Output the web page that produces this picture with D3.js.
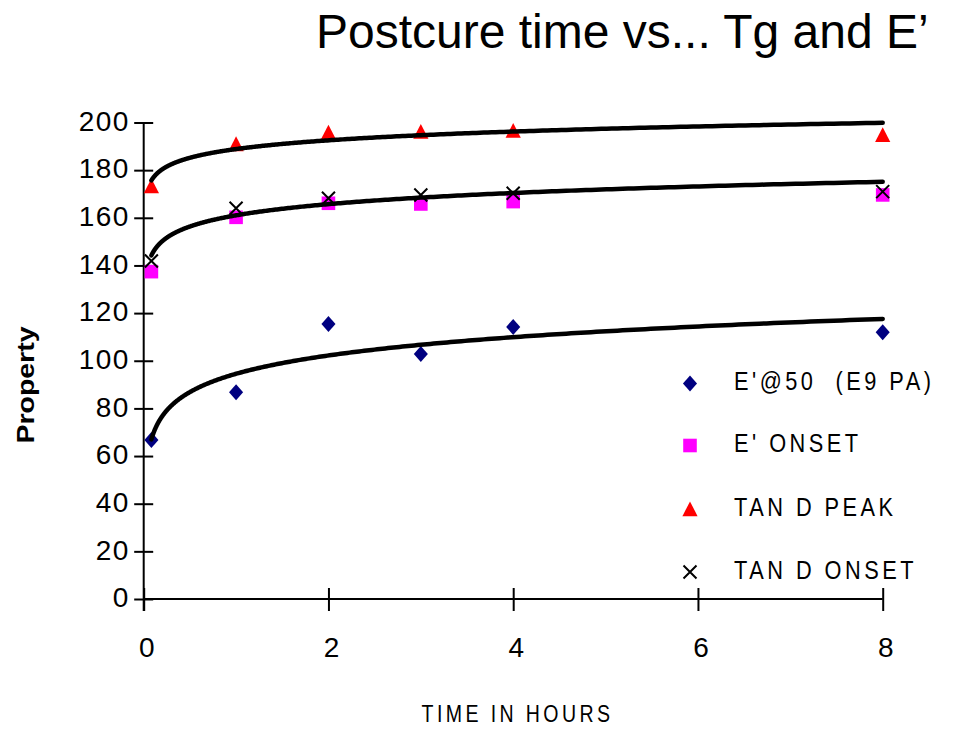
<!DOCTYPE html>
<html>
<head>
<meta charset="utf-8">
<script src="https://cdn.jsdelivr.net/npm/d3@7"></script>
<style>
  html, body { margin: 0; padding: 0; background: #fff; }
  svg { display: block; }
  text { white-space: pre; font-family: "Liberation Sans", Arial, sans-serif; }
</style>
</head>
<body>
<div id="chart"></div>
<script>
// Postcure time (hours) against measured properties
const timeHours = [1 / 12, 1, 2, 3, 4, 8];
const eStorage50 = [66.7, 86.8, 115.4, 102.8, 114.2, 112.0];   // E'@50 (E9 Pa)
const eOnset     = [137.4, 160.2, 166.1, 165.8, 166.8, 169.6]; // E' onset
const tanDPeak   = [173.3, 191.0, 195.9, 196.2, 196.6, 194.8]; // tan delta peak
const tanDOnset  = [141.9, 164.0, 168.2, 169.6, 170.3, 171.0]; // tan delta onset

const xTicks = [0, 2, 4, 6, 8];
const yTicks = [0, 20, 40, 60, 80, 100, 120, 140, 160, 180, 200];

const seriesNames = ["E'@50  (E9 PA)", "E' ONSET", "TAN D PEAK", "TAN D ONSET"];

const W = 953, H = 729;
const svg = d3.select("#chart").append("svg").attr("width", W).attr("height", H);

const x = d3.scaleLinear().domain([0, 8]).range([143.7, 882.7]);
const y = d3.scaleLinear().domain([0, 200]).range([599, 122.5]);

// Title
svg.append("text")
  .attr("x", 316).attr("y", 48)
  .attr("font-size", 48)
  .attr("fill", "#000")
  .text("Postcure time vs... Tg and E’");

// Axes with ticks crossing the axis line
const yAxis = svg.append("g")
  .attr("transform", `translate(${x(0)},0)`)
  .call(d3.axisLeft(y).tickValues(yTicks).tickSize(9).tickPadding(0).tickFormat(d3.format("d")));
yAxis.attr("font-family", null).attr("font-size", null);
yAxis.select(".domain").attr("stroke", "#000").attr("stroke-width", 2).attr("d", `M0,${y(200)}V${y(0) + 12}`);
yAxis.selectAll(".tick line").attr("x1", -9.5).attr("x2", 9.5).attr("stroke", "#000").attr("stroke-width", 2);
yAxis.selectAll(".tick text")
  .attr("x", -14).attr("dy", "0.28em")
  .attr("font-size", 28).attr("letter-spacing", 1.4)
  .attr("fill", "#000");

const xAxis = svg.append("g")
  .attr("transform", `translate(0,${y(0)})`)
  .call(d3.axisBottom(x).tickValues(xTicks).tickSize(12).tickPadding(0).tickFormat(d3.format("d")));
xAxis.attr("font-family", null).attr("font-size", null);
xAxis.select(".domain").attr("stroke", "#000").attr("stroke-width", 2).attr("d", `M${x(0)},0H${x(8)}`);
xAxis.selectAll(".tick line").attr("y1", -11).attr("y2", 12).attr("stroke", "#000").attr("stroke-width", 2);
xAxis.selectAll(".tick text")
  .attr("x", 2.5).attr("y", 58).attr("dy", 0)
  .attr("font-size", 28)
  .attr("fill", "#000");

// Axis titles
svg.append("text")
  .attr("transform", "translate(517.5,722) scale(0.85,1)")
  .attr("text-anchor", "middle")
  .attr("font-size", 23)
  .attr("letter-spacing", 4)
  .attr("fill", "#000")
  .text("TIME IN HOURS");

svg.append("text")
  .attr("transform", "translate(34,385) rotate(-90)")
  .attr("text-anchor", "middle")
  .attr("font-weight", "bold")
  .attr("font-size", 24)
  .attr("textLength", 117)
  .attr("lengthAdjust", "spacingAndGlyphs")
  .attr("fill", "#000")
  .text("Property");

// Marker shapes
const diamond = (cx, cy, s) => `M${cx},${cy - s}L${cx + s * 0.88},${cy}L${cx},${cy + s}L${cx - s * 0.88},${cy}Z`;
const square = (cx, cy, s) => `M${cx - s},${cy - s}H${cx + s}V${cy + s}H${cx - s}Z`;
const triangle = (cx, cy, s) => `M${cx},${cy - s}L${cx + s},${cy + s * 0.95}L${cx - s},${cy + s * 0.95}Z`;
const cross = (cx, cy, s) => `M${cx - s},${cy - s}L${cx + s},${cy + s}M${cx + s},${cy - s}L${cx - s},${cy + s}`;

const series = [
  { name: seriesNames[0], values: eStorage50, shape: diamond, size: 8, fill: "#000080", stroke: "none" },
  { name: seriesNames[1], values: eOnset, shape: square, size: 6.8, fill: "#ff00ff", stroke: "none" },
  { name: seriesNames[2], values: tanDPeak, shape: triangle, size: 7.6, fill: "#ff0000", stroke: "none" },
  { name: seriesNames[3], values: tanDOnset, shape: cross, size: 6.5, fill: "none", stroke: "#000" }
];

const pts = svg.append("g");
series.forEach(s => {
  pts.selectAll(null)
    .data(timeHours.map((t, i) => [t, s.values[i]]))
    .enter().append("path")
    .attr("d", d => s.shape(x(d[0]), y(d[1]), s.size))
    .attr("fill", s.fill)
    .attr("stroke", s.stroke)
    .attr("stroke-width", 2);
});

// Logarithmic trendlines (least squares fit of y = a + b ln x)
function logFit(xs, ys) {
  const lx = xs.map(Math.log);
  const mx = d3.mean(lx), my = d3.mean(ys);
  let sxy = 0, sxx = 0;
  lx.forEach((v, i) => { sxy += (v - mx) * (ys[i] - my); sxx += (v - mx) * (v - mx); });
  const b = sxy / sxx;
  const a = my - b * mx;
  return t => a + b * Math.log(t);
}

const trendSeries = [eStorage50, tanDPeak, tanDOnset];
const samples = d3.range(0, 401).map(i => timeHours[0] * Math.pow(8 / timeHours[0], i / 400));
const line = d3.line().x(d => x(d[0])).y(d => y(d[1]));
trendSeries.forEach(vals => {
  const f = logFit(timeHours, vals);
  svg.append("path")
    .attr("d", line(samples.map(t => [t, f(t)])))
    .attr("fill", "none")
    .attr("stroke", "#000")
    .attr("stroke-width", 4.5)
    .attr("stroke-linecap", "round")
    .attr("stroke-linejoin", "round");
});

// Legend (condensed lettering, widely spaced)
const legendRows = [383.5, 445.5, 509, 572];
const legend = svg.append("g");
series.forEach((s, i) => {
  const cy = legendRows[i];
  legend.append("path")
    .attr("d", s.shape(690, cy, s.size))
    .attr("fill", s.fill)
    .attr("stroke", s.stroke)
    .attr("stroke-width", 2);
  legend.append("text")
    .attr("transform", `translate(734,${cy + 6.5}) scale(0.85,1)`)
    .attr("font-size", 25.6)
    .attr("letter-spacing", 4.1)
    .attr("fill", "#000")
    .text(s.name);
});
</script>
</body>
</html>
